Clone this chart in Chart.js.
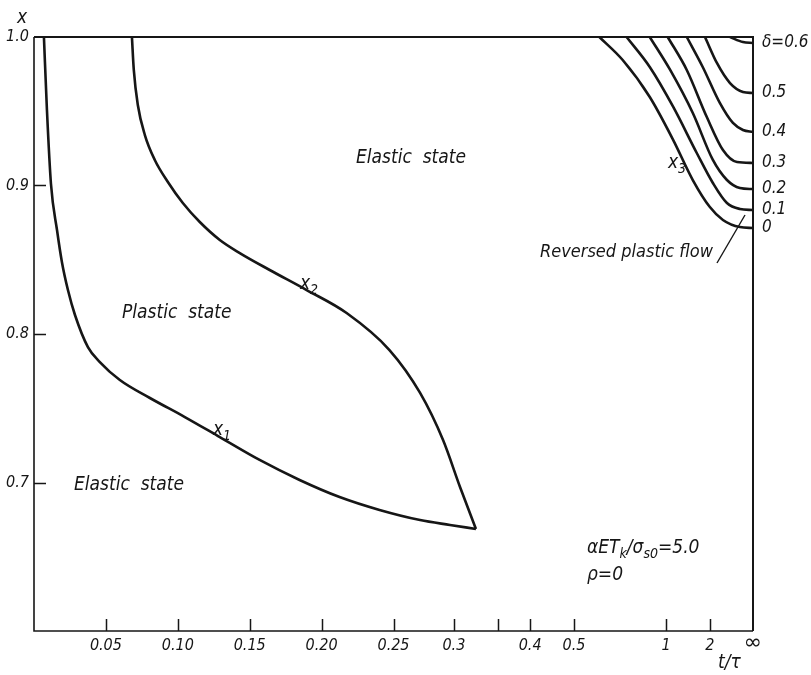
<!DOCTYPE html>
<html>
<head>
<meta charset="utf-8">
<script src="https://cdn.jsdelivr.net/npm/chart.js@4.4.0/dist/chart.umd.min.js"></script>
<style>
  html, body { margin: 0; padding: 0; background: #fff; }
  #chart { display: block; }
</style>
</head>
<body>
<canvas id="chart" width="811" height="675"></canvas>
<script>
// ticks of the t/tau axis and their printed labels
const tickT = [0.05, 0.10, 0.15, 0.20, 0.25, 0.3, 0.35, 0.4, 0.5, 1, 2, Infinity];
const tickLabels = ['0.05', '0.10', '0.15', '0.20', '0.25', '0.3', '', '0.4', '0.5', '1', '2', ''];
const yTicks = [0.7, 0.8, 0.9, 1.0];

// boundary x1 (elastic / plastic)
const x1T = [0.0069, 0.009, 0.0118, 0.016, 0.0194, 0.0236, 0.0285, 0.0375, 0.0458, 0.0597, 0.0806, 0.1049,
             0.1292, 0.1569, 0.1847, 0.2125, 0.2403, 0.2698, 0.2962, 0.3232];
const x1X = [1.0, 0.9508, 0.901, 0.870, 0.8485, 0.8296, 0.8128, 0.7912, 0.7811, 0.769, 0.7569, 0.7441,
             0.7306, 0.7152, 0.7017, 0.6902, 0.6815, 0.6747, 0.6714, 0.6687];

// boundary x2 (plastic / elastic)
const x2T = [0.0681, 0.0694, 0.0722, 0.0771, 0.0840, 0.0931, 0.1035, 0.1153, 0.1292, 0.1431, 0.1639, 0.1896,
             0.2174, 0.2472, 0.2698, 0.2896, 0.3061, 0.3232];
const x2X = [1.0, 0.9778, 0.9542, 0.934, 0.9172, 0.9024, 0.8882, 0.8754, 0.8633, 0.8545, 0.8431, 0.8296,
             0.8141, 0.7892, 0.7603, 0.7286, 0.697, 0.6687];

// x3 curves (reversed plastic flow) for delta = 0 ... 0.6
const deltaLabels = ['0', '0.1', '0.2', '0.3', '0.4', '0.5', 'δ=0.6'];
const deltaT = [
  [0.58, 0.68, 0.85, 1.09, 1.44, 2.0, 2.87, 6.6, Infinity],
  [0.70, 0.85, 1.09, 1.54, 2.15, 3.31, 6.6, Infinity],
  [0.85, 1.05, 1.44, 2.15, 3.31, 6.6, Infinity],
  [1.02, 1.31, 1.87, 2.87, 5.4, Infinity],
  [1.31, 1.72, 2.6, 4.3, 8.6, Infinity],
  [1.8, 2.39, 3.75, 8.6, Infinity],
  [3.75, 8.6, Infinity]
];
const deltaX = [
  [1.0, 0.9845, 0.9596, 0.9306, 0.9037, 0.8855, 0.8768, 0.872, 0.8714],
  [1.0, 0.9798, 0.9529, 0.9219, 0.9017, 0.8882, 0.8842, 0.8835],
  [1.0, 0.9778, 0.9488, 0.9172, 0.9037, 0.8983, 0.8976],
  [1.0, 0.9778, 0.9461, 0.9239, 0.9158, 0.9152],
  [1.0, 0.9798, 0.9556, 0.9421, 0.9374, 0.936],
  [1.0, 0.9825, 0.969, 0.963, 0.9623],
  [1.0, 0.9966, 0.996]
];

// the t/tau axis is linear up to 0.25, then squeezed toward infinity
const warpT = [0.25, 0.3, 0.35, 0.4, 0.5, 1, 2, Infinity];
const warpU = [0.5, 0.584, 0.645, 0.69, 0.751, 0.879, 0.94, 1];

function warp(t) {
  if (t <= 0.25) return t * 2;
  const r = 1 / t;
  for (let i = 0; i < warpT.length - 1; i++) {
    const r0 = 1 / warpT[i], r1 = 1 / warpT[i + 1];
    if (r <= r0 && r >= r1) return warpU[i] + (warpU[i + 1] - warpU[i]) * (r0 - r) / (r0 - r1);
  }
  return 1;
}

const toPoints = (ts, xs) => ts.map((t, i) => ({ x: warp(t), y: xs[i] }));

const ink = '#161616';
const family = '"DejaVu Sans Condensed", "DejaVu Sans", sans-serif';
const fontStr = (size) => `italic ${size}px ${family}`;

const curve = (data) => ({
  data,
  showLine: true,
  borderColor: ink,
  borderWidth: 2.6,
  pointRadius: 0,
  cubicInterpolationMode: 'monotone',
  fill: false
});

const datasets = [curve(toPoints(x1T, x1X)), curve(toPoints(x2T, x2X))];
deltaT.forEach((ts, i) => datasets.push(curve(toPoints(ts, deltaX[i]))));

// draws text runs, second element true = subscript
function drawRich(ctx, parts, x, y, size) {
  let cx = x;
  parts.forEach(([txt, sub]) => {
    ctx.font = fontStr(sub ? Math.round(size * 0.72) : size);
    ctx.fillText(txt, cx, sub ? y + size * 0.32 : y);
    cx += ctx.measureText(txt).width;
  });
}

const framePlugin = {
  id: 'frame',
  afterDraw(chart) {
    const { ctx, chartArea: a, scales } = chart;
    const xs = scales.x, ys = scales.y;
    ctx.save();
    ctx.strokeStyle = ink;
    ctx.lineCap = 'butt';

    // frame
    ctx.lineWidth = 1.6;
    ctx.beginPath();
    ctx.moveTo(a.left, a.top); ctx.lineTo(a.left, a.bottom); ctx.lineTo(a.right, a.bottom);
    ctx.stroke();
    ctx.lineWidth = 2;
    ctx.beginPath();
    ctx.moveTo(a.left, a.top); ctx.lineTo(a.right, a.top); ctx.lineTo(a.right, a.bottom);
    ctx.stroke();

    // inward ticks
    ctx.lineWidth = 1.5;
    ctx.beginPath();
    tickT.slice(0, -1).forEach(t => {
      const px = Math.round(xs.getPixelForValue(warp(t))) + 0.5;
      ctx.moveTo(px, a.bottom); ctx.lineTo(px, a.bottom - 12);
    });
    yTicks.slice(0, -1).forEach(v => {
      const py = Math.round(ys.getPixelForValue(v)) + 0.5;
      ctx.moveTo(a.left, py); ctx.lineTo(a.left + 12, py);
    });
    ctx.stroke();

    // infinity label under the right edge
    ctx.fillStyle = ink;
    ctx.textAlign = 'center';
    ctx.textBaseline = 'middle';
    ctx.font = '22px "DejaVu Sans", sans-serif';
    ctx.fillText('∞', xs.getPixelForValue(warp(Infinity)), 643);

    // texts
    ctx.textAlign = 'left';
    ctx.font = fontStr(19);
    ctx.fillText('Elastic  state', 356, 158);
    ctx.fillText('Plastic  state', 122, 313);
    ctx.fillText('Elastic  state', 74, 485);
    ctx.font = fontStr(18);
    ctx.fillText('Reversed plastic flow', 540, 252);
    drawRich(ctx, [['x', false], ['1', true]], 213, 430, 19);
    drawRich(ctx, [['x', false], ['2', true]], 300, 284, 19);
    drawRich(ctx, [['x', false], ['3', true]], 668, 163, 19);
    drawRich(ctx, [['αET', false], ['k', true], ['/σ', false], ['s0', true], ['=5.0', false]], 587, 548, 19);
    drawRich(ctx, [['ρ=0', false]], 587, 575, 19);

    // delta labels at the curve ends
    ctx.font = fontStr(17);
    deltaLabels.forEach((lab, i) => {
      const xv = deltaX[i];
      ctx.fillText(lab, a.right + 9, ys.getPixelForValue(xv[xv.length - 1]));
    });

    // axis titles
    ctx.font = fontStr(19);
    ctx.fillText('x', 17, 18);
    ctx.fillText('t/τ', 718, 663);

    // leader of "Reversed plastic flow"
    ctx.lineWidth = 1.4;
    ctx.beginPath();
    ctx.moveTo(717, 263); ctx.lineTo(745, 215);
    ctx.stroke();
    ctx.restore();
  }
};

const tickFont = { family, style: 'italic', size: 16 };

new Chart(document.getElementById('chart'), {
  type: 'scatter',
  data: { datasets },
  options: {
    responsive: false,
    animation: false,
    devicePixelRatio: 1,
    layout: { padding: { top: 37, right: 58, left: 0, bottom: 0 } },
    plugins: { legend: { display: false }, tooltip: { enabled: false } },
    scales: {
      x: {
        type: 'linear',
        min: 0,
        max: 1,
        grid: { display: false, drawTicks: false },
        border: { display: false },
        afterBuildTicks: (scale) => { scale.ticks = tickT.map(t => ({ value: warp(t) })); },
        afterFit: (scale) => { scale.height = 44; },
        ticks: {
          autoSkip: false,
          maxRotation: 0,
          minRotation: 0,
          padding: 5,
          color: ink,
          font: tickFont,
          callback: (v, i) => tickLabels[i]
        }
      },
      y: {
        type: 'linear',
        min: 0.6,
        max: 1.0,
        grid: { display: false, drawTicks: false },
        border: { display: false },
        afterBuildTicks: (scale) => { scale.ticks = yTicks.map(v => ({ value: v })); },
        afterFit: (scale) => { scale.width = 34; },
        ticks: {
          padding: 5,
          color: ink,
          font: tickFont,
          callback: (v) => v.toFixed(1)
        }
      }
    }
  },
  plugins: [framePlugin]
});
</script>
</body>
</html>
